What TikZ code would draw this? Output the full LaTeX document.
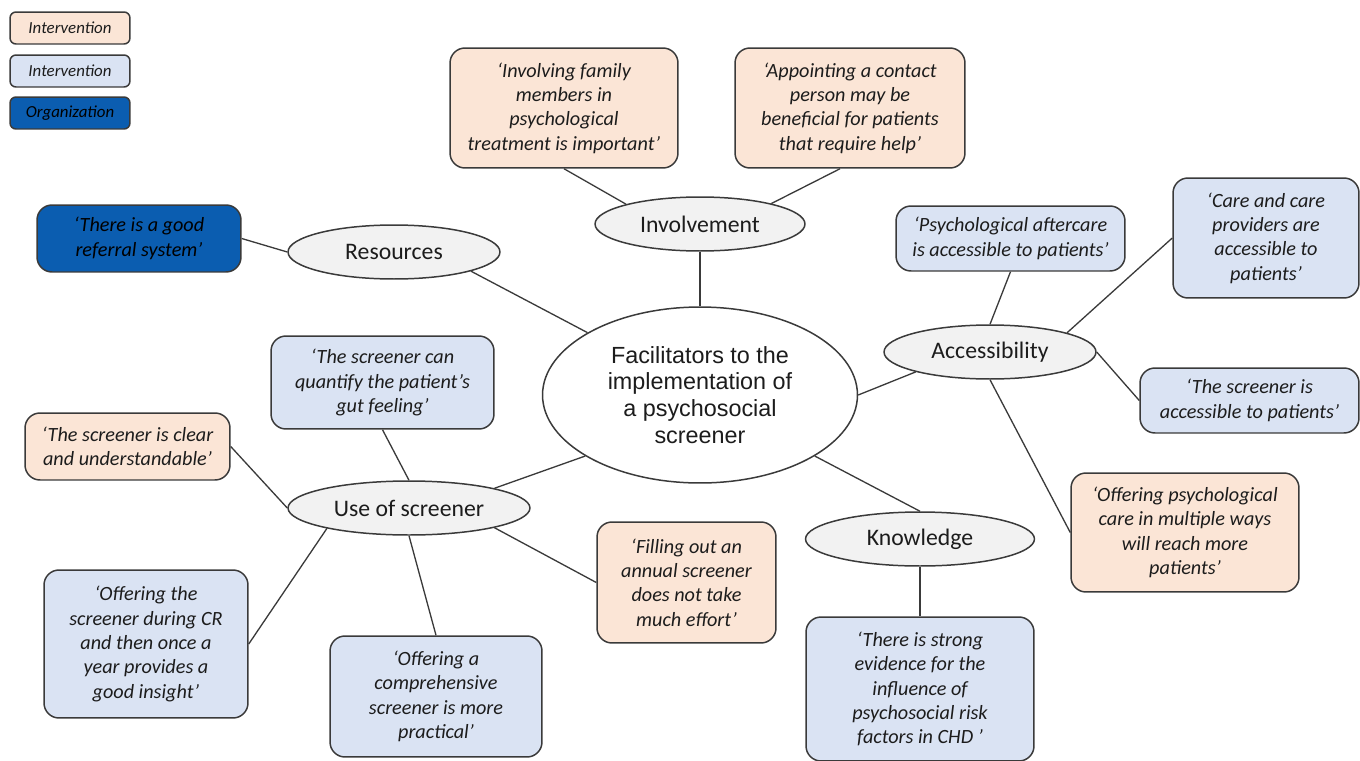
\documentclass[tikz,border=0pt]{standalone}
\usepackage{fontspec}
\setmainfont{Carlito}
\newfontfamily\arialf{Liberation Sans}
\usetikzlibrary{shapes.geometric}
\definecolor{peach}{HTML}{FBE5D6}
\definecolor{lblue}{HTML}{DAE3F3}
\definecolor{dblue}{HTML}{0B5DB0}
\definecolor{ellfill}{HTML}{F2F2F2}
\definecolor{bord}{HTML}{3A3A3A}
\definecolor{txt}{HTML}{1C1C1C}
\tikzset{
 qbox/.style={draw=bord, line width=0.85pt, rounded corners=0.3cm, align=center, inner sep=0pt, text=txt, font=\fontsize{11.5}{13.9}\selectfont\itshape},
 peachbox/.style={qbox, fill=peach},
 bluebox/.style={qbox, fill=lblue},
 orgbox/.style={qbox, fill=dblue, text=black},
 legbox/.style={draw=bord, line width=0.85pt, rounded corners=0.12cm, minimum width=2.4cm, minimum height=0.64cm, inner sep=0pt, font=\fontsize{9.6}{11}\selectfont\itshape, text=txt},
 cat/.style={ellipse, draw=bord, line width=0.85pt, fill=ellfill, inner sep=0pt, minimum height=1.08cm, font=\fontsize{13.5}{16}\selectfont, text=txt},
 link/.style={draw=bord, line width=0.75pt},
}
\begin{document}
\begin{tikzpicture}[x=0.02cm, y=-0.02cm]
\useasboundingbox (0,0) rectangle (1360,761);
% legend
\node[legbox, fill=peach] (l1) at (70,28) {Intervention};
\node[legbox, fill=lblue] (l2) at (70,71) {Intervention};
\node[legbox, fill=dblue, text=black] (l3) at (70,113) {Organization};
% quote boxes
\node[peachbox, minimum width=4.56cm, minimum height=2.4cm] (q1) at (564,108) {‘Involving family\\members in\\psychological\\treatment is important’};
\node[peachbox, minimum width=4.6cm, minimum height=2.4cm] (q2) at (850,108) {‘Appointing a contact\\person may be\\beneficial for patients\\that require help’};
\node[orgbox, minimum width=4.08cm, minimum height=1.34cm] (q3) at (139,238.5) {‘There is a good\\referral system’};
\node[bluebox, minimum width=4.58cm, minimum height=1.3cm] (q4) at (1010.5,238.5) {‘Psychological aftercare\\is accessible to patients’};
\node[bluebox, minimum width=3.72cm, minimum height=2.4cm] (q5) at (1266,238) {‘Care and care\\providers are\\accessible to\\patients’};
\node[bluebox, minimum width=4.38cm, minimum height=1.3cm] (q6) at (1249.5,400.5) {‘The screener is\\accessible to patients’};
\node[peachbox, minimum width=4.56cm, minimum height=2.38cm] (q7) at (1185,532.5) {‘Offering psychological\\care in multiple ways\\will reach more\\patients’};
\node[bluebox, minimum width=4.46cm, minimum height=1.86cm] (q8) at (382.5,382.5) {‘The screener can\\quantify the patient’s\\gut feeling’};
\node[peachbox, minimum width=4.1cm, minimum height=1.34cm] (q9) at (127.5,446.5) {‘The screener is clear\\and understandable’};
\node[bluebox, minimum width=4.08cm, minimum height=2.96cm] (q10) at (146,644) {‘Offering the\\screener during CR\\and then once a\\year provides a\\good insight’};
\node[bluebox, minimum width=4.24cm, minimum height=2.42cm] (q11) at (436,696.5) {‘Offering a\\comprehensive\\screener is more\\practical’};
\node[peachbox, minimum width=3.58cm, minimum height=2.42cm] (q12) at (686.5,582.5) {‘Filling out an\\annual screener\\does not take\\much effort’};
\node[bluebox, minimum width=4.56cm, minimum height=2.88cm] (q13) at (920,689) {‘There is strong\\evidence for the\\influence of\\psychosocial risk\\factors in CHD ’};
% category ellipses
\node[cat, minimum width=4.2cm] (inv) at (700,224) {Involvement};
\node[cat, minimum width=4.24cm] (res) at (394,252) {Resources};
\node[cat, minimum width=4.24cm] (acc) at (990,352) {Accessibility};
\node[cat, minimum width=4.84cm] (use) at (409,508) {Use of screener};
\node[cat, minimum width=4.58cm] (know) at (920,539) {Knowledge};
\node[ellipse, draw=bord, line width=0.85pt, fill=white, minimum width=6.3cm, minimum height=3.52cm, inner sep=0pt, align=center, font=\arialf\fontsize{13.3}{15.3}\selectfont, text=txt] (c) at (700,395) {Facilitators to the\\implementation of\\a psychosocial\\screener};
% connectors
\draw[link] (q1.south) -- (inv.165.6);
\draw[link] ([xshift=-0.2cm]q2.south) -- (inv.16.6);
\draw[link] (inv.south) -- (c.north);
\draw[link] (q3.east) -- (res.west);
\draw[link] (res.-14.7) -- (c.151);
\draw[link] (q4.south) -- (acc.north);
\draw[link] (q5.west) -- (acc.14.6);
\draw[link] (acc.east) -- (q6.west);
\draw[link] (acc.south) -- (q7.west);
\draw[link] (acc.195) -- (c.east);
\draw[link] (c.208.8) -- (use.13.4);
\draw[link] (c.-28.8) -- (know.north);
\draw[link] (know.south) -- (q13.north);
\draw[link] (q8.south) -- (use.north);
\draw[link] (q9.east) -- (use.west);
\draw[link] (use.194.3) -- (q10.east);
\draw[link] (use.south) -- (q11.north);
\draw[link] (use.-13.6) -- (q12.west);
\end{tikzpicture}
\end{document}
